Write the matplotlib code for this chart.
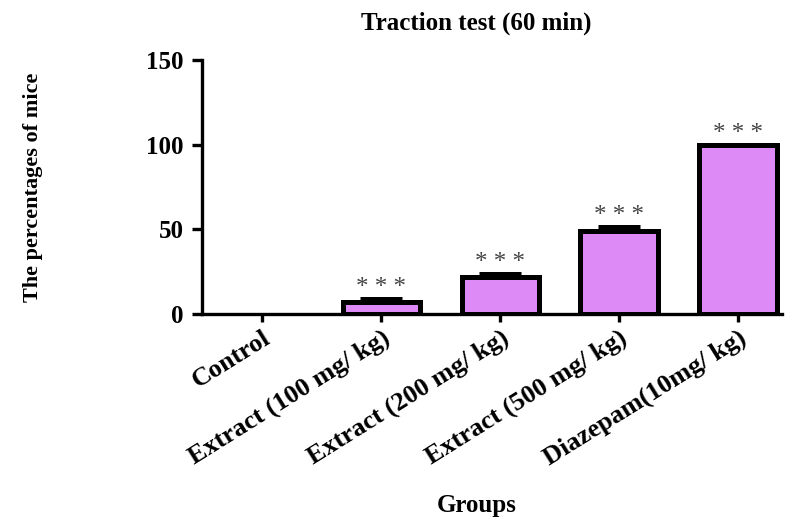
import matplotlib
matplotlib.use("Agg")
import matplotlib.pyplot as plt
import numpy as np

categories = ["Control", "Extract (100 mg/ kg)", "Extract (200 mg/ kg)",
              "Extract (500 mg/ kg)", "Diazepam(10mg/ kg)"]
values = [0, 7.3, 21.7, 49.2, 100.0]
errors = [0, 1.4, 2.0, 2.0, 0]
stars = ["", "* * *", "* * *", "* * *", "* * *"]
yticks = [0, 50, 100, 150]

plt.rcParams['font.family'] = ['Liberation Serif', 'DejaVu Serif']
plt.rcParams['font.weight'] = 'bold'

fig = plt.figure(figsize=(7.9, 5.17), dpi=100)
ax = fig.add_axes([0.2561, 0.3926, 0.7338, 0.4913])

x = np.arange(len(categories))
bar_color = "#DD8AF6"
lws = [3.6 if v > 0 else 0 for v in values]
ax.bar(x, values, width=0.65, color=bar_color, edgecolor="black", linewidth=lws, zorder=2)
idx = [i for i, e in enumerate(errors) if e > 0]
ax.errorbar(x[idx], [values[i] for i in idx],
            yerr=[[0] * len(idx), [errors[i] for i in idx]], fmt='none',
            ecolor='black', elinewidth=3, capsize=15, capthick=3.6, zorder=3)

for xi, v, e, s in zip(x, values, errors, stars):
    if s:
        ax.text(xi, v + e + 3.0, s, ha='center', va='baseline', fontsize=18,
                color='#444444', fontweight='normal')

ax.set_xlim(-0.505, 4.37)
ax.set_ylim(0, 150)
ax.set_yticks(yticks)
ax.set_yticklabels([str(t) for t in yticks], fontsize=18, fontweight='bold')
ax.set_xticks(x)
ax.set_xticklabels(categories, rotation=32, ha='right', va='top', rotation_mode='anchor',
                   fontsize=19, fontweight='bold')

for side in ['top', 'right']:
    ax.spines[side].set_visible(False)
for side in ['left', 'bottom']:
    ax.spines[side].set_linewidth(2.4)
ax.tick_params(axis='y', width=2.4, length=7.2, pad=6, direction='out')
ax.tick_params(axis='x', width=2.4, length=5.8, pad=3, direction='out')

ax.set_ylabel("The percentages of mice", fontsize=16, fontweight='bold')
ax.yaxis.set_label_coords(-0.275, 0.5)
fig.text(0.603, 0.9555, "Traction test (60 min)", ha='center', va='center',
         fontsize=18, fontweight='bold')
fig.text(0.604, 0.0232, "Groups", ha='center', va='center', fontsize=18, fontweight='bold')

fig.savefig("out.png", dpi=100)
